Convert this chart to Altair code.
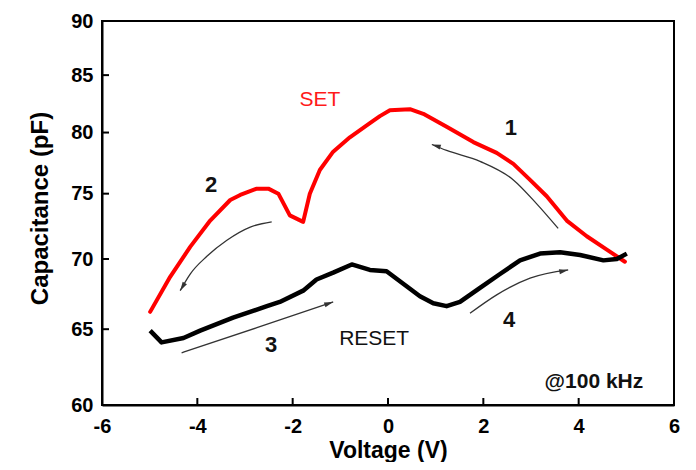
import altair as alt
import pandas as pd

# ---- data ----
set_v = [4.97, 4.59, 4.17, 3.75, 3.33, 2.98, 2.63, 2.28, 1.79, 1.23, 0.74, 0.46, 0.04, -0.17,
         -0.38, -0.80, -1.15, -1.43, -1.64, -1.78, -2.06, -2.30, -2.51, -2.75, -3.10, -3.31,
         -3.73, -4.15, -4.57, -4.99]
set_c = [69.8, 70.7, 71.7, 72.9, 74.8, 76.1, 77.4, 78.3, 79.2, 80.5, 81.6, 82.0, 81.9, 81.4,
         80.8, 79.6, 78.4, 76.9, 75.0, 72.8, 73.3, 75.0, 75.4, 75.4, 74.9, 74.5,
         72.9, 70.9, 68.7, 66.2]

reset_v = [-4.99, -4.75, -4.29, -3.94, -3.25, -2.54, -2.27, -1.78, -1.50, -1.15, -0.76, -0.38,
           -0.03, 0.32, 0.67, 0.95, 1.23, 1.51, 1.93, 2.35, 2.77, 3.19, 3.61, 4.03, 4.52, 4.80, 5.01]
reset_c = [64.9, 64.1, 64.4, 64.9, 65.8, 66.6, 66.9, 67.7, 68.5, 69.0, 69.6, 69.2,
           69.1, 68.2, 67.3, 66.8, 66.6, 66.9, 67.9, 68.9, 69.9, 70.4, 70.5, 70.3, 69.9, 70.0, 70.4]

arrow1_v = [3.57, 3.12, 2.63, 1.93, 1.23, 0.92]
arrow1_c = [72.3, 74.2, 76.1, 77.6, 78.5, 79.0]
arrow2_v = [-2.44, -2.89, -3.38, -3.80, -4.15, -4.36]
arrow2_c = [72.8, 72.4, 71.4, 70.2, 68.9, 67.7]
arrow3_v = [-4.33, -2.75, -1.15]
arrow3_c = [63.4, 65.1, 66.9]
arrow4_v = [1.72, 2.28, 2.98, 3.78]
arrow4_c = [66.1, 67.4, 68.6, 69.2]
arrow_head_angle = [288, 211, 71, 78]

num_labels = ["1", "2", "3", "4"]
num_v = [2.58, -3.71, -2.45, 2.54]
num_c = [80.4, 75.7, 63.9, 65.6]

set_label = ("SET", -1.43, 82.8)
reset_label = ("RESET", -0.29, 64.3)
freq_label = ("@100 kHz", 4.32, 61.5)

x_ticks = [-6, -4, -2, 0, 2, 4, 6]
y_ticks = [60, 65, 70, 75, 80, 85, 90]

FONT = "Liberation Sans"

# ---- tables ----
df_set = pd.DataFrame({"v": set_v, "c": set_c, "i": range(len(set_v))})
df_reset = pd.DataFrame({"v": reset_v, "c": reset_c, "i": range(len(reset_v))})

arrows = [(arrow1_v, arrow1_c), (arrow2_v, arrow2_c), (arrow3_v, arrow3_c), (arrow4_v, arrow4_c)]
rows, heads = [], []
for k, (av, ac) in enumerate(arrows):
    for j, (a, b) in enumerate(zip(av, ac)):
        rows.append({"arrow": k, "i": j, "v": a, "c": b})
    heads.append({"arrow": k, "v": av[-1], "c": ac[-1], "angle": arrow_head_angle[k]})
df_arrows = pd.DataFrame(rows)
df_heads = pd.DataFrame(heads)

df_nums = pd.DataFrame({"t": num_labels, "v": num_v, "c": num_c})
df_xt = pd.DataFrame({"v": x_ticks})
df_yt = pd.DataFrame({"c": y_ticks})

xs = alt.Scale(domain=[-6, 6], nice=False, zero=False)
ys = alt.Scale(type="log", domain=[60, 90], nice=False, zero=False)

x_axis = alt.Axis(values=x_ticks, title="Voltage (V)", titleFontSize=23,
                  labelExpr="datum.value < 0 ? '-' + abs(datum.value) : '' + datum.value",
                  titleY=52, titleBaseline="alphabetic", labelPadding=11,
                  labelFlush=False, labelOverlap=False)
y_axis = alt.Axis(values=y_ticks, format="d", title="Capacitance (pF)", titleFontSize=24,
                  titleX=-55, titleY=187, titleAngle=270, titleBaseline="alphabetic",
                  titleAlign="center", labelPadding=9, labelOverlap=False)


def X(field="v"):
    return alt.X(f"{field}:Q", scale=xs, axis=x_axis, title="Voltage (V)")


def Y(field="c"):
    return alt.Y(f"{field}:Q", scale=ys, axis=y_axis, title="Capacitance (pF)")


base_set = alt.Chart(df_set).mark_line(color="#ff0000", strokeWidth=4, strokeJoin="round",
                                       strokeCap="round").encode(
    x=X(), y=Y(), order="i:Q",
)

reset_line = alt.Chart(df_reset).mark_line(color="black", strokeWidth=4.5, strokeJoin="round",
                                           strokeCap="butt").encode(
    x=X(), y=Y(), order="i:Q",
)

arrow_lines = alt.Chart(df_arrows).mark_line(color="#333333", strokeWidth=1.3,
                                             interpolate="monotone").encode(
    x=X(), y=Y(), detail="arrow:N", order="i:Q",
)

arrow_heads = alt.Chart(df_heads).mark_point(shape="M0,0L0.5,1.8L-0.5,1.8Z", filled=True,
                                             color="#333333", size=100, opacity=1).encode(
    x=X(), y=Y(), angle=alt.Angle("angle:Q", scale=None),
)

nums = alt.Chart(df_nums).mark_text(font=FONT, fontSize=22, fontWeight="bold",
                                    color="#111111").encode(
    x=X(), y=Y(), text="t:N",
)


def label(item, color, weight, size):
    t, v, c = item
    return alt.Chart(pd.DataFrame({"t": [t], "v": [v], "c": [c]})).mark_text(
        font=FONT, fontSize=size, fontWeight=weight, color=color).encode(
        x=X(), y=Y(), text="t:N",
    )


set_text = label(set_label, "#ff1a1a", "normal", 21)
reset_text = label(reset_label, "#111111", "normal", 21)
freq_text = label(freq_label, "#111111", "bold", 21)

xtick = alt.Chart(df_xt).mark_rule(color="black", strokeWidth=2).encode(
    x=X(), y=alt.value(384), y2=alt.value(377))
ytick = alt.Chart(df_yt).mark_rule(color="black", strokeWidth=2).encode(
    y=Y(), x=alt.value(0), x2=alt.value(7))

chart = alt.layer(
    base_set, reset_line, arrow_lines, arrow_heads, nums, set_text, reset_text, freq_text,
    xtick, ytick,
).properties(
    width=572, height=384,
    autosize=alt.AutoSizeParams(type="none"),
    padding={"left": 94, "top": 13, "right": 14, "bottom": 57},
    background="white",
).configure_view(
    stroke="black", strokeWidth=2
).configure_axis(
    grid=False, ticks=False, domainColor="black", domainWidth=2,
    labelFont=FONT, labelFontSize=20, labelFontWeight="bold", labelColor="black",
    titleFont=FONT, titleFontWeight="bold", titleColor="black",
)

chart.save("out.html", embed_options={"renderer": "svg", "actions": False})
